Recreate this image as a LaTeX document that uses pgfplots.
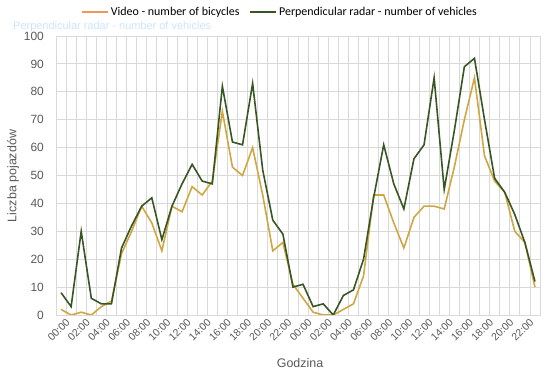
\documentclass[border=0pt]{standalone}
\usepackage{pgfplots}
\pgfplotsset{compat=1.18}
\usepackage{fontspec}
\setmainfont{Liberation Sans}
\newfontfamily\calibri{Carlito}
\definecolor{gridgray}{RGB}{217,217,217}
\definecolor{labelgray}{RGB}{89,89,89}
\definecolor{vidline}{RGB}{208,166,64}
\definecolor{vidlegend}{RGB}{240,150,90}
\definecolor{radar}{RGB}{55,86,35}
\definecolor{ghost}{RGB}{205,228,250}
\pgfplotstableread{
x video radar
0 2 8
1 0 3
2 1 30
3 0 6
4 3 4
5 5 4
6 22 24
7 30 32
8 39 39
9 33 42
10 23 27
11 39 39
12 37 47
13 46 54
14 43 48
15 48 47
16 73 82
17 53 62
18 50 61
19 60 83
20 43 52
21 23 34
22 26 29
23 11 10
24 6 11
25 1 3
26 0 4
27 0 0
28 2 7
29 4 9
30 14 20
31 43 42
32 43 61
33 33 47
34 24 38
35 35 56
36 39 61
37 39 85
38 38 45
39 53 66
40 70 89
41 85 92
42 57 70
43 48 49
44 44 44
45 30 36
46 26 26
47 10 12
}\datatable
\begin{document}
\begin{tikzpicture}
\path[use as bounding box] (0,0) rectangle (550bp,375bp);
\node[anchor=west, text=ghost, font=\fontsize{11}{13}\selectfont, inner sep=0pt] at (13bp,348bp) {Perpendicular radar - number of vehicles};
\begin{axis}[
  at={(56bp,60bp)}, anchor=south west,
  width=484bp, height=279bp, scale only axis,
  xmin=-0.5, xmax=47.5, ymin=0, ymax=100,
  xtick={0,2,...,46},
  xticklabels={00:00,02:00,04:00,06:00,08:00,10:00,12:00,14:00,16:00,18:00,20:00,22:00,00:00,02:00,04:00,06:00,08:00,10:00,12:00,14:00,16:00,18:00,20:00,22:00},
  x tick label style={rotate=45, anchor=east, font=\fontsize{10.5}{12}\selectfont, text=labelgray, inner sep=0pt, yshift=-9bp, xshift=1bp},
  minor xtick={-0.5,0.5,...,47.5},
  xminorgrids, ymajorgrids,
  grid style={draw=gridgray, line width=0.8pt},
  minor grid style={draw=gridgray, line width=0.8pt},
  major grid style={draw=gridgray, line width=0.8pt},
  major tick length=0pt, minor tick length=0pt,
  tick style={draw=none},
  axis line style={draw=gridgray, line width=0.8pt},
  ytick={0,10,...,100},
  y tick label style={font=\fontsize{12}{14}\selectfont, text=labelgray, inner sep=0pt, xshift=-12bp},
  /pgf/number format/assume math mode=true,
  legend columns=2,
  legend style={draw=none, fill=none, at={(0.0455,1.086)}, anchor=west, font=\calibri\fontsize{12}{14}\selectfont, text=black, /tikz/every even column/.append style={column sep=8bp}},
  legend image code/.code={\draw[#1, line width=1.6pt] (0bp,0bp) -- (26bp,0bp);},
]
\addlegendimage{vidlegend}
\addlegendentry{Video - number of bicycles}
\addlegendimage{radar}
\addlegendentry{Perpendicular radar - number of vehicles}
\addplot[vidline, line width=1.6pt, forget plot] table[x=x, y=video] {\datatable};
\addplot[radar, line width=1.6pt, forget plot] table[x=x, y=radar] {\datatable};
\end{axis}
\node[rotate=90, text=labelgray, font=\fontsize{12.5}{14}\selectfont] at (13bp,199bp) {Liczba pojazdów};
\node[text=labelgray, font=\fontsize{12.5}{14}\selectfont] at (300bp,12bp) {Godzina};
\end{tikzpicture}
\end{document}
